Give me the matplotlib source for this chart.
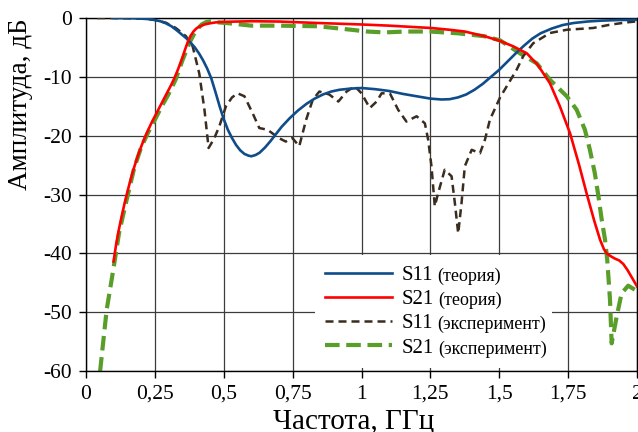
import matplotlib
matplotlib.use("Agg")
from matplotlib import pyplot as plt
from matplotlib.patches import Rectangle

plt.rcParams['font.family'] = ['Liberation Serif', 'DejaVu Serif']
plt.rcParams['axes.unicode_minus'] = False

# S11 теория
s11_t_f = [0.10, 0.15, 0.20, 0.23, 0.25, 0.27, 0.29, 0.31, 0.327, 0.345, 0.363, 0.38,
           0.395, 0.41, 0.425, 0.44, 0.455, 0.47, 0.485, 0.50, 0.515, 0.53, 0.545, 0.56,
           0.575, 0.59, 0.60, 0.615, 0.63, 0.65, 0.67, 0.69, 0.71, 0.74, 0.77, 0.80, 0.83,
           0.86, 0.89, 0.92, 0.96, 1.0, 1.05, 1.10, 1.15, 1.2, 1.25, 1.29, 1.32, 1.35, 1.38,
           1.41, 1.44, 1.47, 1.50, 1.53, 1.56, 1.59, 1.62, 1.65, 1.69, 1.73, 1.77, 1.82,
           1.87, 1.93, 2.0]
s11_t_db = [0, 0, -0.1, -0.2, -0.35, -0.55, -0.9, -1.4, -2.0, -2.7, -3.4, -4.2,
            -5.0, -6.0, -7.2, -8.6, -10.3, -12.6, -15.0, -17.2, -19.0, -20.4, -21.6, -22.5,
            -23.1, -23.4, -23.5, -23.3, -22.9, -22.0, -20.9, -19.7, -18.5, -17.0, -15.7, -14.6, -13.7,
            -13.0, -12.5, -12.2, -12.0, -11.9, -12.1, -12.4, -12.9, -13.3, -13.7, -13.85, -13.8, -13.5, -13.0,
            -12.2, -11.2, -10.0, -8.8, -7.4, -6.0, -4.7, -3.5, -2.6, -1.8, -1.2, -0.85, -0.6,
            -0.45, -0.35, -0.3]

# S21 теория
s21_t_f = [0.10, 0.11, 0.12, 0.13, 0.14, 0.15, 0.16, 0.17, 0.18, 0.19, 0.20, 0.21, 0.22,
           0.23, 0.24, 0.25, 0.26, 0.27, 0.28, 0.29, 0.30, 0.31, 0.32, 0.33, 0.34, 0.35,
           0.36, 0.37, 0.38, 0.39, 0.40, 0.41, 0.42, 0.43, 0.44, 0.45, 0.47, 0.50, 0.55,
           0.6, 0.7, 0.842, 1.0, 1.1, 1.253, 1.32, 1.375, 1.447, 1.503, 1.55, 1.6, 1.64,
           1.684, 1.72, 1.757, 1.79, 1.817, 1.845, 1.866, 1.88, 1.89, 1.905, 1.92, 1.935,
           1.95, 1.965, 1.98, 2.0]
s21_t_db = [-41.4, -38.3, -35.8, -33.6, -31.5, -29.6, -27.8, -26.1, -24.6, -23.2, -21.9, -20.7, -19.6,
            -18.6, -17.6, -16.7, -15.8, -14.9, -14.0, -13.1, -12.2, -11.3, -10.3, -9.2, -8.0, -6.7,
            -5.3, -4.0, -3.0, -2.3, -1.8, -1.5, -1.3, -1.1, -1.0, -0.9, -0.75, -0.65, -0.6,
            -0.55, -0.6, -0.85, -1.1, -1.3, -1.7, -2.0, -2.3, -3.1, -3.9, -4.8, -6.0, -8.0,
            -11.1, -15.0, -19.6, -25.0, -29.8, -34.5, -37.7, -39.3, -40.0, -40.5, -40.9, -41.2,
            -41.8, -42.8, -44.0, -45.6]

# S11 эксперимент
s11_e_f = [0.04, 0.10, 0.20, 0.247, 0.29, 0.326, 0.363, 0.387, 0.411, 0.43, 0.445, 0.465,
           0.484, 0.508, 0.53, 0.55, 0.575, 0.605, 0.629, 0.659, 0.70, 0.725, 0.749, 0.774,
           0.799, 0.823, 0.847, 0.883, 0.916, 0.946, 0.976, 1.0, 1.03, 1.055, 1.073, 1.103,
           1.133, 1.163, 1.2, 1.23, 1.242, 1.254, 1.266, 1.278, 1.302, 1.327, 1.339, 1.351,
           1.363, 1.375, 1.4, 1.43, 1.448, 1.466, 1.503, 1.535, 1.563, 1.587, 1.623, 1.684,
           1.745, 1.841, 1.902, 1.962, 2.0]
s11_e_db = [0, 0, -0.1, -0.3, -0.8, -1.7, -3.1, -4.8, -9.4, -15.6, -22.1, -20.5,
            -18.4, -15.0, -13.5, -12.8, -13.3, -16.2, -18.7, -19.0, -20.4, -21.0, -20.4, -21.8,
            -17.3, -13.9, -12.5, -13.0, -14.2, -12.5, -11.6, -12.8, -15.3, -14.2, -12.8, -12.8,
            -15.6, -17.6, -16.7, -17.9, -20.7, -25.2, -32.0, -29.8, -25.8, -26.9, -31.5, -36.6,
            -31.5, -25.2, -22.4, -23.0, -20.7, -17.3, -13.5, -11.0, -8.8, -6.5, -4.3, -2.55,
            -2.0, -1.7, -1.14, -0.75, -0.57]

# S21 эксперимент
s21_e_f = [0.051, 0.075, 0.099, 0.12, 0.147, 0.175, 0.2, 0.225, 0.25, 0.275, 0.3, 0.325,
           0.35, 0.375, 0.39, 0.40, 0.41, 0.42, 0.436, 0.45, 0.47, 0.52, 0.6, 0.7, 0.842,
           0.963, 1.02, 1.084, 1.16, 1.25, 1.35, 1.447, 1.503, 1.575, 1.636, 1.684, 1.745,
           1.781, 1.811, 1.829, 1.847, 1.86, 1.872, 1.884, 1.892, 1.902, 1.908, 1.926, 1.944,
           1.968, 2.0]
s21_e_db = [-60.1, -49.6, -42.8, -36.5, -31.0, -25.5, -22.0, -19.5, -17.3, -15.0, -12.9, -10.5,
            -7.2, -4.3, -2.9, -2.2, -1.6, -1.1, -0.7, -0.6, -0.7, -0.9, -1.3, -1.3, -1.4,
            -2.0, -2.3, -2.45, -2.3, -2.3, -2.6, -3.1, -3.8, -6.0, -7.7, -10.5, -13.3,
            -15.6, -19.0, -22.4, -26.4, -30.3, -34.3, -37.7, -41.1, -47.9, -55.3, -50.8, -46.8,
            -45.5, -46.4]

x_ticks = [0, 0.25, 0.5, 0.75, 1, 1.25, 1.5, 1.75, 2]
x_tick_labels = ['0', '0,25', '0,5', '0,75', '1', '1,25', '1,5', '1,75', '2']
y_ticks = [0, -10, -20, -30, -40, -50, -60]

fig = plt.figure(figsize=(6.38, 4.32), dpi=100)
ax = fig.add_axes([86 / 638, 61 / 432, 551 / 638, 353 / 432])

l1, = ax.plot(s11_t_f, s11_t_db, color='#0f4c8a', lw=1.9, zorder=4)
l2, = ax.plot(s21_t_f, s21_t_db, color='#ff0000', lw=1.9, zorder=5)
l3, = ax.plot(s11_e_f, s11_e_db, color='#3a2c1e', lw=1.8, dashes=(3.2, 2.0), zorder=3)
l4, = ax.plot(s21_e_f, s21_e_db, color='#5a9e2a', lw=3.0, dashes=(3.5, 1.6), zorder=2)

ax.set_xlim(0, 2)
ax.set_ylim(-60, 0)
ax.set_xticks(x_ticks)
ax.set_xticklabels(x_tick_labels)
ax.set_yticks(y_ticks)
ax.tick_params(labelsize=15.5, length=5, width=1, direction='out', pad=5)
ax.set_axisbelow(True)
ax.grid(True, color='#3c3c3c', lw=0.9)
for s in ax.spines.values():
    s.set_color('black')
    s.set_linewidth(1.0)

# белый фон под легендой
ax.add_patch(Rectangle((0.4156, 0.0085), 0.4304, 0.3205, transform=ax.transAxes,
                       facecolor='white', edgecolor='none', zorder=1))

leg = ax.legend([l1, l2, l3, l4], ['S11', 'S21', 'S11', 'S21'],
                loc='lower left', bbox_to_anchor=(0.4156, 0.0085), borderaxespad=0,
                frameon=False, fontsize=15, handlelength=3.2, handletextpad=0.45,
                labelspacing=0.22, borderpad=0.5)
suffixes = ['(теория)', '(теория)', '(эксперимент)', '(эксперимент)']
for t, s in zip(leg.get_texts(), suffixes):
    ax.annotate(s, xy=(1, 0), xycoords=t, xytext=(3, 0), textcoords='offset points',
                fontsize=13, va='bottom', ha='left', zorder=6)

fig.text(354 / 638, 4 / 432, 'Частота, ГГц', fontsize=21, ha='center', va='baseline')
fig.text(21 / 638, 1 - 104 / 432, 'Амплитуда, дБ', fontsize=19.5, rotation=90,
         ha='center', va='center')

fig.savefig('out.png', dpi=100)
